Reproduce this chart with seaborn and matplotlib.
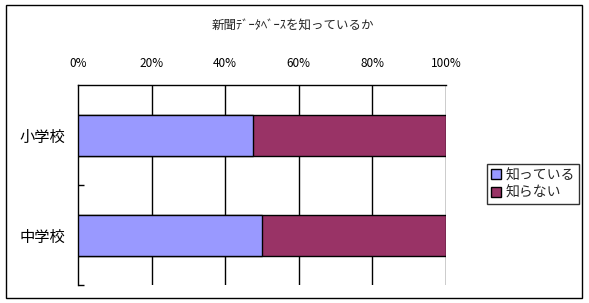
import matplotlib
matplotlib.use("Agg")
import matplotlib.pyplot as plt
import seaborn as sns
import pandas as pd
from matplotlib.patches import Rectangle, Patch

categories = ["小学校", "中学校"]
know = [47.6, 50.1]
dont_know = [52.4, 49.9]
series_names = ["知っている", "知らない"]
xticks = [0, 20, 40, 60, 80, 100]
xtick_labels = ["0%", "20%", "40%", "60%", "80%", "100%"]
title = "新聞ﾃﾞｰﾀﾍﾞｰｽを知っているか"

sns.set_theme(style="white")
plt.rcParams['font.family'] = ['Noto Sans CJK JP', 'DejaVu Sans']

df = pd.DataFrame({"cat": categories, "know": know,
                   "total": [a + b for a, b in zip(know, dont_know)]})

fig = plt.figure(figsize=(5.89, 3.03), dpi=100)
ax = fig.add_axes([78/589, 1-285/303, 368/589, 200/303])

blue = "#9999FF"
maroon = "#993366"

sns.barplot(data=df, y="cat", x="total", orient="h", color=maroon,
            width=0.41, edgecolor="black", linewidth=1, ax=ax, saturation=1, zorder=3)
sns.barplot(data=df, y="cat", x="know", orient="h", color=blue,
            width=0.41, edgecolor="black", linewidth=1, ax=ax, saturation=1, zorder=4)

ax.set_xlim(0, 100)
ax.set_ylim(1.5, -0.5)
ax.set_xlabel("")
ax.set_ylabel("")

ax.xaxis.tick_top()
ax.set_xticks(xticks)
ax.set_xticklabels(xtick_labels, fontsize=8.5)
ax.tick_params(axis="x", length=0, pad=11, colors="black")
for x in xticks[1:]:
    ax.axvline(x, color="black", linewidth=1, zorder=1)

ax.set_yticks([0, 1])
ax.set_yticklabels(categories, fontsize=11)
ax.tick_params(axis="y", which="major", length=0, pad=9, colors="black")
ax.set_yticks([0.5, 1.5], minor=True)
ax.tick_params(axis="y", which="minor", direction="in", length=4, width=1, color="black", left=True)

for s in ["right", "bottom"]:
    ax.spines[s].set_visible(False)
for s in ["top", "left"]:
    ax.spines[s].set_color("black")
    ax.spines[s].set_linewidth(1)

ax.set_facecolor("white")

handles = [Patch(facecolor=blue, edgecolor="black", linewidth=1),
           Patch(facecolor=maroon, edgecolor="black", linewidth=1)]
leg = fig.legend(handles, series_names, loc="upper left",
                 bbox_to_anchor=(487/589, 1-164/303), fontsize=10,
                 fancybox=False, frameon=True, handlelength=0.7, handleheight=0.7,
                 handletextpad=0.3, borderpad=0.3, labelspacing=0.25, borderaxespad=0)
leg.get_frame().set_edgecolor("black")
leg.get_frame().set_linewidth(1)

fig.text(293/589, 1-25/303, title, ha="center", va="center", fontsize=9)

fig.patches.append(Rectangle((6/589, 1-298/303), 576/589, 293/303,
                             transform=fig.transFigure, fill=False,
                             edgecolor="black", linewidth=1))

fig.savefig("out.png", dpi=100)
